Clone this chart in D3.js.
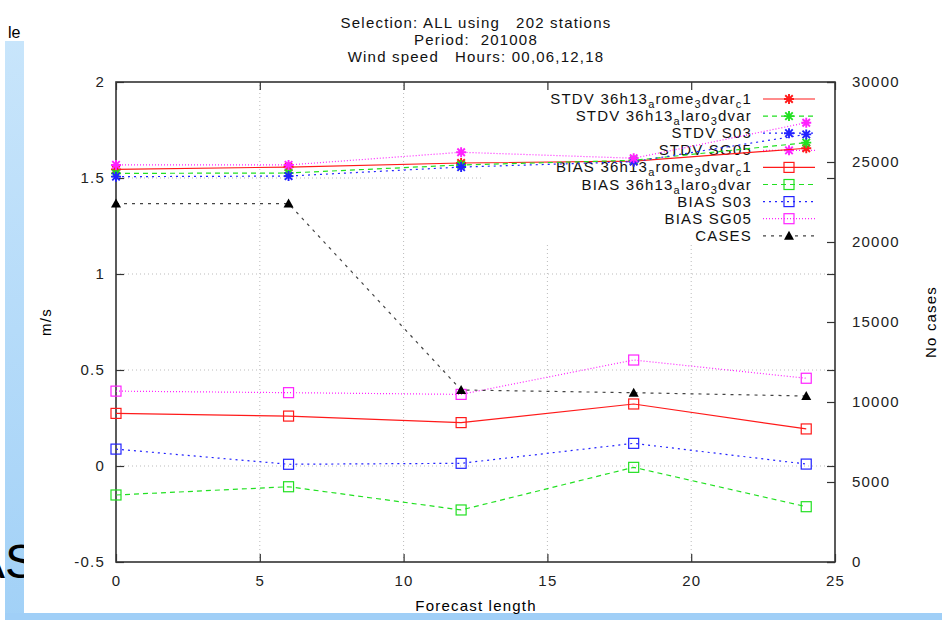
<!DOCTYPE html>
<html>
<head>
<meta charset="utf-8">
<script src="https://cdn.jsdelivr.net/npm/d3@7"></script>
<style>
  body { margin: 0; background: #fff; }
  svg { display: block; font-family: "Liberation Sans", Arial, sans-serif; }
  svg text { letter-spacing: 1.2px; }
</style>
</head>
<body>
<svg id="chart" width="942" height="620"></svg>
<script>
// forecast lengths (hours)
const hours = [0, 6, 12, 18, 24];

// STDV (m/s)
const stdvArome = [1.545, 1.557, 1.578, 1.588, 1.655];
const stdvLaro = [1.524, 1.526, 1.568, 1.592, 1.684];
const stdvS03 = [1.507, 1.510, 1.557, 1.585, 1.727];
const stdvSG05 = [1.568, 1.568, 1.634, 1.603, 1.788];

// BIAS (m/s)
const biasArome = [0.274, 0.260, 0.226, 0.323, 0.193];
const biasLaro = [-0.151, -0.108, -0.229, -0.007, -0.212];
const biasS03 = [0.088, 0.009, 0.014, 0.118, 0.010];
const biasSG05 = [0.390, 0.382, 0.373, 0.552, 0.457];

// number of cases
const cases = [22400, 22400, 10750, 10580, 10375];

const xTicks = [0, 5, 10, 15, 20, 25];
const yTicks = [-0.5, 0, 0.5, 1, 1.5, 2];
const y2Ticks = [0, 5000, 10000, 15000, 20000, 25000, 30000];
const titleLines = ["Selection: ALL using   202 stations", "Period:  201008", "Wind speed   Hours: 00,06,12,18"];

const series = [
  { name: "STDV 36h13_arome_3dvar_c1", values: stdvArome, color: "#ff1a1a", dash: null, mark: "star" },
  { name: "STDV 36h13_alaro_3dvar", values: stdvLaro, color: "#22e022", dash: "5,4", mark: "star" },
  { name: "STDV S03", values: stdvS03, color: "#2222ff", dash: "2,4", mark: "star" },
  { name: "STDV SG05", values: stdvSG05, color: "#ff22ff", dash: "1,2", mark: "star" },
  { name: "BIAS 36h13_arome_3dvar_c1", values: biasArome, color: "#ff1a1a", dash: null, mark: "square" },
  { name: "BIAS 36h13_alaro_3dvar", values: biasLaro, color: "#22e022", dash: "5,4", mark: "square" },
  { name: "BIAS S03", values: biasS03, color: "#2222ff", dash: "2,4", mark: "square" },
  { name: "BIAS SG05", values: biasSG05, color: "#ff22ff", dash: "1,2", mark: "square" },
  { name: "CASES", values: cases, color: "#444", dash: "3,5", mark: "triangle", right: true }
];

const svg = d3.select("#chart");

// slide background behind the plot image
const defs = svg.append("defs");
const grad = defs.append("linearGradient").attr("id", "strip").attr("x1", 0).attr("y1", 0).attr("x2", 0).attr("y2", 1);
grad.append("stop").attr("offset", "0%").attr("stop-color", "#c8e5fb");
grad.append("stop").attr("offset", "100%").attr("stop-color", "#a2d1f7");

svg.append("rect").attr("x", 5).attr("y", 41).attr("width", 19).attr("height", 579).attr("fill", "url(#strip)");
svg.append("rect").attr("x", 5).attr("y", 613).attr("width", 937).attr("height", 7).attr("fill", "#a0cff7");
svg.append("text").attr("x", 8).attr("y", 38).attr("font-size", 16).style("letter-spacing", "0px").text("le");
svg.append("text").attr("x", -27).attr("y", 578).attr("font-size", 48).style("letter-spacing", "0px").text("AS");
svg.append("rect").attr("x", 24).attr("y", 0).attr("width", 918).attr("height", 613).attr("fill", "#fff");

const mLeft = 116, mRight = 835, mTop = 82, mBottom = 562;
const x = d3.scaleLinear().domain([0, 25]).range([mLeft, mRight]);
const y = d3.scaleLinear().domain([-0.5, 2]).range([mBottom, mTop]);
const y2 = d3.scaleLinear().domain([0, 30000]).range([mBottom, mTop]);

// key box area (grid is not drawn through it)
const keyLeft = 483, keyBottom = 243;

// grid
const grid = svg.append("g").attr("stroke", "#bbb").attr("stroke-dasharray", "1,3").attr("stroke-width", 1);
xTicks.slice(1, -1).forEach(t => {
  const gx = x(t);
  grid.append("line").attr("x1", gx).attr("x2", gx).attr("y1", mBottom).attr("y2", gx > keyLeft ? keyBottom : mTop);
});
yTicks.slice(1, -1).forEach(t => {
  const gy = y(t);
  grid.append("line").attr("y1", gy).attr("y2", gy).attr("x1", mLeft).attr("x2", gy < keyBottom ? keyLeft : mRight);
});

// axes with inward ticks
const fmt = d => String(d);
svg.append("g").attr("transform", `translate(${mLeft},0)`)
  .call(d3.axisLeft(y).tickValues(yTicks).tickSize(-8).tickPadding(11).tickFormat(fmt));
svg.append("g").attr("transform", `translate(${mRight},0)`)
  .call(d3.axisLeft(y).tickValues(yTicks).tickSize(8).tickFormat(""));
svg.append("g").attr("transform", `translate(${mRight},0)`)
  .call(d3.axisRight(y2).tickValues(y2Ticks).tickSize(-8).tickPadding(17).tickFormat(fmt));
svg.append("g").attr("transform", `translate(0,${mBottom})`)
  .call(d3.axisBottom(x).tickValues(xTicks).tickSize(-8).tickPadding(13).tickFormat(fmt));
svg.append("g").attr("transform", `translate(0,${mTop})`)
  .call(d3.axisTop(x).tickValues(xTicks).tickSize(-8).tickFormat(""));

svg.selectAll(".domain").remove();
svg.selectAll(".tick line").attr("stroke", "#333").attr("stroke-width", 1.2);
svg.selectAll(".tick text").attr("font-size", 15).attr("font-family", "Liberation Sans, Arial, sans-serif").attr("fill", "#222");

svg.append("rect").attr("x", mLeft).attr("y", mTop).attr("width", mRight - mLeft).attr("height", mBottom - mTop)
  .attr("fill", "none").attr("stroke", "#333").attr("stroke-width", 1.6);

// titles
svg.append("g").selectAll("text").data(titleLines).join("text")
  .attr("x", 476).attr("y", (d, i) => 28 + i * 17)
  .attr("text-anchor", "middle").attr("font-size", 15).attr("fill", "#111")
  .style("white-space", "pre")
  .text(d => d);

svg.append("text").attr("transform", "translate(51,322) rotate(-90)").attr("text-anchor", "middle")
  .attr("font-size", 15).text("m/s");
svg.append("text").attr("transform", "translate(936,322) rotate(-90)").attr("text-anchor", "middle")
  .attr("font-size", 15).text("No cases");
svg.append("text").attr("x", 476).attr("y", 611).attr("text-anchor", "middle")
  .attr("font-size", 15).text("Forecast length");

function drawMark(g, kind, cx, cy, color) {
  if (kind === "star") {
    const r = 5;
    g.append("path")
      .attr("d", `M${cx - r},${cy}H${cx + r}M${cx},${cy - r}V${cy + r}M${cx - r * 0.75},${cy - r * 0.75}L${cx + r * 0.75},${cy + r * 0.75}M${cx - r * 0.75},${cy + r * 0.75}L${cx + r * 0.75},${cy - r * 0.75}`)
      .attr("stroke", color).attr("stroke-width", 1.9).attr("fill", "none");
  } else if (kind === "square") {
    g.append("rect").attr("x", cx - 5).attr("y", cy - 5).attr("width", 10).attr("height", 10)
      .attr("fill", "none").attr("stroke", color).attr("stroke-width", 1.2);
  } else {
    g.append("path").attr("d", `M${cx},${cy - 5}L${cx + 5},${cy + 4}L${cx - 5},${cy + 4}Z`).attr("fill", "#000");
  }
}

// key (drawn first, plots go over it)
const key = svg.append("g");
series.forEach((s, i) => {
  const ky = 99 + i * 17.1;
  const t = key.append("text").attr("x", 752).attr("y", ky + 5).attr("text-anchor", "end")
    .attr("font-size", 15).attr("fill", "#111");
  const parts = s.name.split(/(_.)/).filter(p => p.length);
  let lowered = false;
  parts.forEach(p => {
    if (p[0] === "_") {
      t.append("tspan").attr("font-size", 11).attr("dy", lowered ? 0 : 4).text(p[1]);
      lowered = true;
    } else {
      t.append("tspan").attr("dy", lowered ? -4 : 0).text(p);
      lowered = false;
    }
  });
  key.append("line").attr("x1", 763).attr("x2", 815).attr("y1", ky).attr("y2", ky)
    .attr("stroke", s.color).attr("stroke-width", 1.2).attr("stroke-dasharray", s.dash);
  drawMark(key, s.mark, 789, ky, s.color);
});

// series
series.forEach(s => {
  const ys = s.right ? y2 : y;
  const pts = hours.map((h, i) => [h, s.values[i]]);
  const line = d3.line().x(d => x(d[0])).y(d => ys(d[1]));
  const g = svg.append("g");
  g.append("path").datum(pts).attr("d", line).attr("fill", "none")
    .attr("stroke", s.color).attr("stroke-width", 1.2).attr("stroke-dasharray", s.dash);
  pts.forEach(d => drawMark(g, s.mark, x(d[0]), ys(d[1]), s.color));
});
</script>
</body>
</html>
